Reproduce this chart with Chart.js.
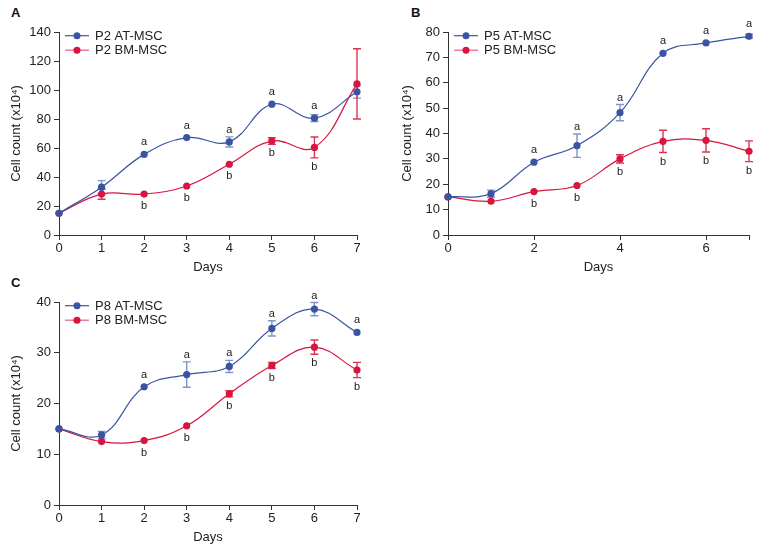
<!DOCTYPE html>
<html><head><meta charset="utf-8">
<script src="https://cdn.jsdelivr.net/npm/chart.js@4.4.1/dist/chart.umd.min.js"></script>
<style>
body{margin:0;background:#fff;width:761px;height:551px;position:relative;overflow:hidden;font-family:"Liberation Sans",Arial,sans-serif}
.p{position:absolute}
.lbl{position:absolute;font-weight:bold;font-size:13px;line-height:13px;color:#111;font-family:"Liberation Sans",Arial,sans-serif}
</style></head><body>
<div class="lbl" style="left:11px;top:6px">A</div>
<div class="lbl" style="left:411px;top:6px">B</div>
<div class="lbl" style="left:11px;top:276px">C</div>
<div class="p" style="left:0;top:0;width:380px;height:280px"><canvas id="cA"></canvas></div>
<div class="p" style="left:380px;top:0;width:381px;height:280px"><canvas id="cB"></canvas></div>
<div class="p" style="left:0;top:270px;width:380px;height:280px"><canvas id="cC"></canvas></div>
<script>
// ---- data ----
const days = [0, 1, 2, 3, 4, 5, 6, 7];

const p2AT    = [15, 33, 55.6, 67.2, 64.2, 90.2, 80.6, 98.8];
const p2ATErr = [0, 4.5, 0, 0, 3.5, 0, 2.3, 4.4];
const p2BM    = [15, 28.2, 28.2, 33.8, 48.8, 64.8, 60.4, 104.2];
const p2BMErr = [0, 3.5, 0, 0, 0, 2.3, 7.2, 24.2];
const p2ATSig = ['', '', 'a', 'a', 'a', 'a', 'a', ''];
const p2BMSig = ['', '', 'b', 'b', 'b', 'b', 'b', ''];
const p2YTicks = [0, 20, 40, 60, 80, 100, 120, 140];
const p2XTicks = [0, 1, 2, 3, 4, 5, 6, 7];

const p5AT    = [15, 16.3, 28.7, 35.2, 48.2, 71.6, 75.7, 78.3];
const p5ATErr = [0, 1.4, 0, 4.6, 3.2, 0, 0, 0.8];
const p5BM    = [15, 13.3, 17.1, 19.5, 30.0, 36.9, 37.3, 33.0];
const p5BMErr = [0, 0, 0, 0, 1.6, 4.4, 4.6, 4.1];
const p5ATSig = ['', '', 'a', 'a', 'a', 'a', 'a', 'a'];
const p5BMSig = ['', '', 'b', 'b', 'b', 'b', 'b', 'b'];
const p5YTicks = [0, 10, 20, 30, 40, 50, 60, 70, 80];
const p5XTicks = [0, 2, 4, 6, 7];
const p5XLabels = ['0', '2', '4', '6', ''];

const p8AT    = [15, 13.8, 23.3, 25.7, 27.3, 34.8, 38.6, 34.0];
const p8ATErr = [0, 0.7, 0, 2.5, 1.2, 1.5, 1.3, 0];
const p8BM    = [15, 12.5, 12.7, 15.6, 21.9, 27.5, 31.1, 26.6];
const p8BMErr = [0, 0, 0, 0, 0.6, 0.6, 1.4, 1.5];
const p8ATSig = ['', '', 'a', 'a', 'a', 'a', 'a', 'a'];
const p8BMSig = ['', '', 'b', 'b', 'b', 'b', 'b', 'b'];
const p8YTicks = [0, 10, 20, 30, 40];
const p8XTicks = [0, 1, 2, 3, 4, 5, 6, 7];

const FAM = '"Liberation Sans", Arial, sans-serif';
const FS = 13;
Chart.defaults.font.family = FAM;
Chart.defaults.color = '#222';

const BLUE = '#3a54a4', RED = '#d8153f';
const BLUE_ERR = '#8095c9', RED_ERR = '#d93653';

const errPlugin = {
  id: 'errbars',
  beforeDatasetsDraw(chart){
    const {ctx} = chart, xs = chart.scales.x, ys = chart.scales.y;
    chart.data.datasets.forEach(ds => {
      ctx.save();
      ctx.strokeStyle = ds.errColor; ctx.lineWidth = 1.4;
      ds.data.forEach((p, i) => {
        const e = ds.err[i]; if (!e) return;
        const px = xs.getPixelForValue(p.x);
        const t = ys.getPixelForValue(p.y + e), b = ys.getPixelForValue(p.y - e);
        ctx.beginPath();
        ctx.moveTo(px, t); ctx.lineTo(px, b);
        ctx.moveTo(px - 4, t); ctx.lineTo(px + 4, t);
        ctx.moveTo(px - 4, b); ctx.lineTo(px + 4, b);
        ctx.stroke();
      });
      ctx.restore();
    });
  }
};
const sigPlugin = {
  id: 'sig',
  afterDatasetsDraw(chart){
    const {ctx} = chart, xs = chart.scales.x, ys = chart.scales.y;
    ctx.save();
    ctx.font = '11px ' + FAM;
    ctx.fillStyle = '#222'; ctx.textAlign = 'center'; ctx.textBaseline = 'middle';
    chart.data.datasets.forEach(ds => {
      ds.data.forEach((p, i) => {
        const s = ds.sig[i]; if (!s) return;
        const px = xs.getPixelForValue(p.x), py = ys.getPixelForValue(p.y);
        const e = ds.err[i] || 0;
        let ty;
        if (ds.sigAbove) ty = Math.min(py - 12, ys.getPixelForValue(p.y + e) - 7);
        else ty = Math.max(py + 12, ys.getPixelForValue(p.y - e) + 9);
        ctx.fillText(s, px, ty);
      });
    });
    ctx.restore();
  }
};
const legendPlugin = {
  id: 'leg',
  afterDraw(chart){
    const {ctx, chartArea} = chart;
    ctx.save();
    ctx.font = FS + 'px ' + FAM;
    ctx.textBaseline = 'middle'; ctx.textAlign = 'left';
    chart.data.datasets.forEach((ds, k) => {
      const y = chartArea.top + 3.7 + k * 14.5;
      const x0 = chartArea.left + 6;
      ctx.strokeStyle = ds.legLine; ctx.lineWidth = 1.2;
      ctx.beginPath(); ctx.moveTo(x0, y); ctx.lineTo(x0 + 24, y); ctx.stroke();
      ctx.fillStyle = ds.borderColor;
      ctx.beginPath(); ctx.arc(x0 + 12, y, 3.5, 0, Math.PI * 2); ctx.fill();
      ctx.fillStyle = '#222';
      ctx.fillText(ds.label, x0 + 30, y + 0.5);
    });
    ctx.restore();
  }
};

function mkDs(label, vals, err, sig, color, errColor, above, legLine){
  return {
    label, data: vals.map((v, i) => ({x: days[i], y: v})),
    err, sig, sigAbove: above, errColor, legLine,
    borderColor: color, backgroundColor: color,
    pointBackgroundColor: color, pointBorderWidth: 0, pointRadius: 3.6,
    borderWidth: 1.2, tension: 0.4, clip: false, fill: false
  };
}

function panel(id, o){
  new Chart(document.getElementById(id), {
    type: 'line',
    data: {datasets: [
      mkDs(o.names[0], o.at, o.atErr, o.atSig, BLUE, BLUE_ERR, true, BLUE),
      mkDs(o.names[1], o.bm, o.bmErr, o.bmSig, RED, RED_ERR, false, '#e0607a')
    ]},
    options: {
      responsive: true, maintainAspectRatio: false, animation: false,
      layout: {padding: {left: o.padL, right: o.padR, top: 32, bottom: 0}},
      plugins: {legend: {display: false}, tooltip: {enabled: false}},
      scales: {
        x: {
          type: 'linear', min: 0, max: 7,
          afterBuildTicks: s => { s.ticks = o.xTicks.map(v => ({value: v})); },
          afterFit: s => { s.height = 45; },
          grid: {drawOnChartArea: false, drawTicks: true, tickLength: 5, color: '#333'},
          border: {color: '#333', width: 1},
          ticks: {padding: 1, font: {size: FS}, color: '#222', maxRotation: 0, autoSkip: false,
            callback: (v, i) => o.xLabels ? o.xLabels[i] : String(v)},
          title: {display: true, text: 'Days', font: {size: FS}, color: '#222', padding: {top: 0, bottom: 5}}
        },
        y: {
          min: o.yTicks[0], max: o.yTicks[o.yTicks.length - 1],
          afterBuildTicks: s => { s.ticks = o.yTicks.map(v => ({value: v})); },
          afterFit: s => { s.width = o.yW; },
          grid: {drawOnChartArea: false, drawTicks: true, tickLength: 5, color: '#333'},
          border: {color: '#333', width: 1},
          ticks: {padding: 3, font: {size: FS}, color: '#222'},
          title: {display: true, text: 'Cell count (x10⁴)', font: {size: FS}, color: '#222', padding: {top: 4, bottom: 0}}
        }
      }
    },
    plugins: [errPlugin, sigPlugin, legendPlugin]
  });
}

panel('cA', {names: ['P2 AT-MSC', 'P2 BM-MSC'], at: p2AT, atErr: p2ATErr, atSig: p2ATSig,
  bm: p2BM, bmErr: p2BMErr, bmSig: p2BMSig, yTicks: p2YTicks, xTicks: p2XTicks,
  padL: 5, padR: 23, yW: 54});
panel('cB', {names: ['P5 AT-MSC', 'P5 BM-MSC'], at: p5AT, atErr: p5ATErr, atSig: p5ATSig,
  bm: p5BM, bmErr: p5BMErr, bmSig: p5BMSig, yTicks: p5YTicks, xTicks: p5XTicks, xLabels: p5XLabels,
  padL: 16, padR: 12, yW: 52});
panel('cC', {names: ['P8 AT-MSC', 'P8 BM-MSC'], at: p8AT, atErr: p8ATErr, atSig: p8ATSig,
  bm: p8BM, bmErr: p8BMErr, bmSig: p8BMSig, yTicks: p8YTicks, xTicks: p8XTicks,
  padL: 5, padR: 23, yW: 54});
</script>
</body></html>
